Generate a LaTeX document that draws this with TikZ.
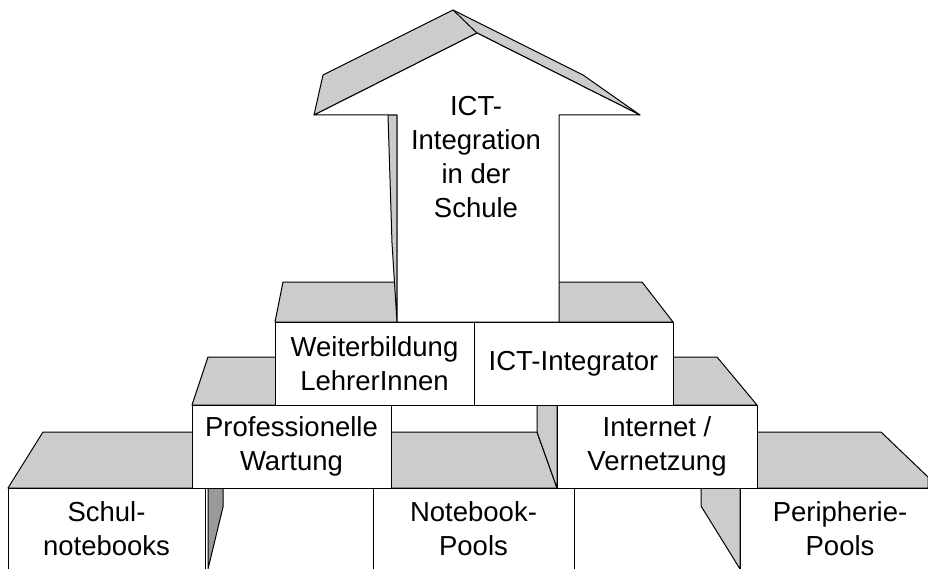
\documentclass[tikz,border=0pt]{standalone}
\usepackage{fontspec}
\setmainfont{Liberation Sans}
\usetikzlibrary{positioning}

\definecolor{facegray}{HTML}{CCCCCC}
\definecolor{sidegray}{HTML}{999999}
\newcommand\bricktext{\fontsize{27.5}{34}\selectfont}

\begin{document}
\begin{tikzpicture}
	[x=1pt, y=-1pt, line width=1pt, line join=round,
	face/.style={draw, fill=facegray},
	darkface/.style={draw, fill=sidegray},
	brick/.style={draw, fill=white, rectangle, anchor=north west,
		outer sep=0pt, inner sep=0pt, minimum width=199pt, minimum height=83pt,
		align=center, font=\bricktext},
	footing/.style={brick, draw=none, fill=none, minimum width=200pt, minimum height=81pt}]

	\useasboundingbox (0,0) rectangle (928,569);
	\clip (0,0) rectangle (928,569);

	\draw[face] (8,488) -- (43,432) -- (240,432) -- (240,488) -- cycle;
	\draw[face] (373,488) -- (380,432) -- (537,432) -- (557,488) -- cycle;
	\draw[face] (740,488) -- (745,432) -- (881,432) -- (928,477) -- (928,488) -- cycle;

	\node[footing, minimum width=197pt] (schul) at (8,488) {Schul-\\notebooks};
	\node[footing, minimum width=201pt] (notebook) at (373,488) {Notebook-\\Pools};
	\node[footing] (peripherie) at (740,488) {Peripherie-\\Pools};
	\draw (schul.south west) |- (schul.north east) -- (schul.south east);
	\draw (notebook.south west) |- (notebook.north east) -- (notebook.south east);
	\draw (peripherie.south west) |- (peripherie.north east);
	\draw[darkface] (208,488) -- (223,488) -- (223,507) -- (208,569) -- cycle;
	\draw[face] (701,488) -- (740,488) -- (740,569) -- (701,506) -- cycle;

	\draw[face] (192,405) -- (208,357) -- (300,357) -- (300,405) -- cycle;
	\draw[face] (537,405) -- (557,405) -- (557,488) -- (537,432) -- cycle;
	\draw[face] (660,405) -- (660,357) -- (717,357) -- (757,405) -- cycle;
	\node[brick] (wartung) at (192,405) {Professionelle\\Wartung};
	\node[brick, minimum width=200pt] (netz) at (557,405) {Internet /\\Vernetzung};

	\draw[face] (275,322) -- (283,282) -- (420,282) -- (420,322) -- cycle;
	\draw[face] (540,322) -- (540,282) -- (642,282) -- (673,322) -- cycle;
	\node[brick] (weiter) at (275,322) {Weiterbildung\\LehrerInnen};
	\node[brick, right=0pt of weiter] (integrator) {ICT-Integrator};

	\draw[face] (314,115) -- (323,75) -- (453,10) -- (583,75) -- (640,115) -- (477,33) -- cycle;
	\draw (453,10) -- (477,33);
	\draw[face] (388,115) -- (397,115) -- (397,322) -- (392,243) -- cycle;
	\draw[fill=white] (314,115) -- (477,33) -- (640,115) -- (559,115) -- (559,322)
		-- (397,322) -- (397,115) -- cycle;
	\node[font=\bricktext, align=center, inner sep=0pt] (goal) at (476,157)
		{ICT-\\Integration\\in der\\Schule};
\end{tikzpicture}
\end{document}
